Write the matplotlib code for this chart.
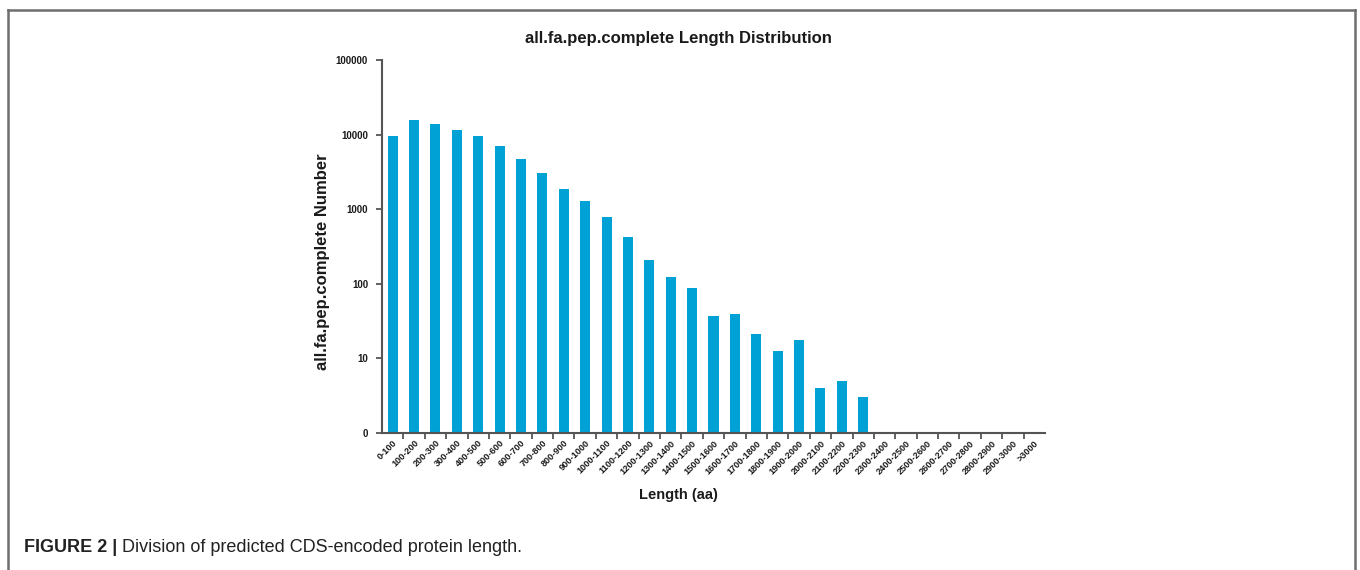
import numpy as np
import matplotlib
matplotlib.use("Agg")
import matplotlib.pyplot as plt
from matplotlib.lines import Line2D
from matplotlib.ticker import FixedLocator, FixedFormatter, NullLocator
from matplotlib.transforms import ScaledTranslation

plt.rcParams['font.family'] = ['Liberation Sans', 'DejaVu Sans']

# Length bins (amino acids) and number of complete peptides per bin
categories = ["0-100", "100-200", "200-300", "300-400", "400-500", "500-600",
              "600-700", "700-800", "800-900", "900-1000", "1000-1100",
              "1100-1200", "1200-1300", "1300-1400", "1400-1500", "1500-1600",
              "1600-1700", "1700-1800", "1800-1900", "1900-2000", "2000-2100",
              "2100-2200", "2200-2300", "2300-2400", "2400-2500", "2500-2600",
              "2600-2700", "2700-2800", "2800-2900", "2900-3000", ">3000"]
counts = [9700, 15800, 13700, 11600, 9700, 7050,
          4780, 3100, 1840, 1270, 775,
          418, 208, 123, 89, 37,
          39, 21, 12.6, 17.5, 4,
          5, 3, 0, 0, 0,
          0, 0, 0, 0, 0]
y_ticks = [1, 10, 100, 1000, 10000, 100000]
y_tick_labels = ["0", "10", "100", "1000", "10000", "100000"]

W, H = 1360, 570
fig = plt.figure(figsize=(W / 100, H / 100), dpi=100)

# plotting area in pixel units
x0, x1 = 382, 1045
y_top, y_bot = 60, 433
ax = fig.add_axes([x0 / W, 1 - y_bot / H, (x1 - x0) / W, (y_bot - y_top) / H])

bar_color = "#00A2D6"
axis_color = "#555555"
text_color = "#1a1a1a"

x = np.arange(len(categories))
vals = np.array(counts, dtype=float)
mask = vals > 0
ax.bar(x[mask], vals[mask], width=0.47, color=bar_color, bottom=0, zorder=2)

ax.set_yscale("log")
ax.set_ylim(1, 100000)
ax.set_xlim(-0.5, len(categories) - 0.5)

ax.yaxis.set_major_locator(FixedLocator(y_ticks))
ax.yaxis.set_major_formatter(FixedFormatter(y_tick_labels))
ax.yaxis.set_minor_locator(NullLocator())

# category labels at bar centres, tick marks at bin boundaries
ax.set_xticks(x)
ax.set_xticklabels(categories, rotation=45, ha="right", rotation_mode="anchor",
                   fontsize=6.6, fontweight="bold", color=text_color)
shift = ScaledTranslation(5 / 100, 0, fig.dpi_scale_trans)
for lab in ax.get_xticklabels():
    lab.set_transform(lab.get_transform() + shift)
ax.set_xticks(np.arange(len(categories) - 1) + 0.5, minor=True)
ax.tick_params(axis="x", which="major", length=0, pad=4)
ax.tick_params(axis="x", which="minor", length=4, width=1.3, color=axis_color)
ax.tick_params(axis="y", which="major", length=4, width=1.3, color=axis_color,
               labelsize=7, pad=6)
for lab in ax.get_yticklabels():
    lab.set_fontweight("bold")
    lab.set_color(text_color)

for side in ("top", "right"):
    ax.spines[side].set_visible(False)
for side in ("left", "bottom"):
    ax.spines[side].set_color(axis_color)
    ax.spines[side].set_linewidth(1.5)

# titles
fig.text(678 / W, 1 - 38 / H, "all.fa.pep.complete Length Distribution",
         ha="center", va="center", fontsize=12, fontweight="bold", color=text_color)
fig.text(322 / W, 1 - 262 / H, "all.fa.pep.complete Number", rotation=90,
         ha="center", va="center", fontsize=12, fontweight="bold", color=text_color)
fig.text(678 / W, 1 - 495 / H, "Length (aa)", ha="center", va="center",
         fontsize=10.5, fontweight="bold", color=text_color)

# caption
cap = fig.text(24 / W, 1 - 548 / H, "FIGURE 2 | ", ha="left", va="center",
               fontsize=13, fontweight="bold", color="#222222")
fig.canvas.draw()
bb = cap.get_window_extent()
fig.text(bb.x1 / W, 1 - 548 / H, "Division of predicted CDS-encoded protein length.",
         ha="left", va="center", fontsize=13, color="#222222")

# outer frame (open at the bottom)
frame_kw = dict(color="#6e6e6e", linewidth=1.8, transform=fig.transFigure)
fig.add_artist(Line2D([8 / W, 1355 / W], [1 - 10 / H, 1 - 10 / H], **frame_kw))
fig.add_artist(Line2D([8 / W, 8 / W], [1 - 10 / H, 0], **frame_kw))
fig.add_artist(Line2D([1355 / W, 1355 / W], [1 - 10 / H, 0], **frame_kw))

fig.savefig("out.png", dpi=100)
